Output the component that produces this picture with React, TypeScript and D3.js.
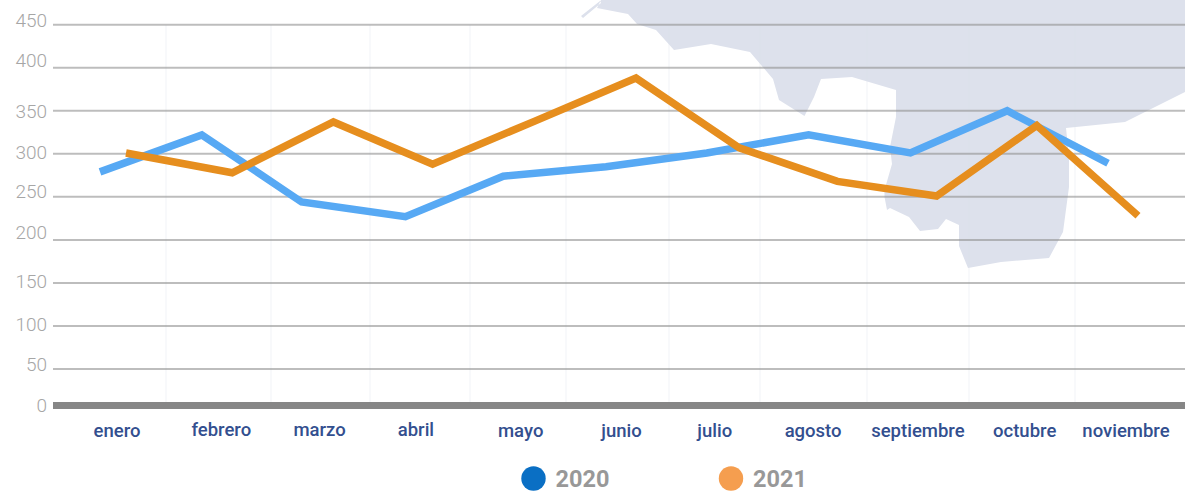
import React, { useRef, useEffect } from 'react';
import * as d3 from 'd3';

const months = ['enero', 'febrero', 'marzo', 'abril', 'mayo', 'junio', 'julio', 'agosto', 'septiembre', 'octubre', 'noviembre'];
const values2020 = [279, 322, 244, 227, 274, 285, 301, 322, 301, 350, 289];
const values2021 = [301, 278, 337, 288, 338, 388, 307, 268, 251, 333, 228];
const yTicks = [0, 50, 100, 150, 200, 250, 300, 350, 400, 450];
const legendYears = ['2020', '2021'];

// nothing in the original is evenly spaced, so each month/tick gets a small shift
const labelNudge = [-6, -2, -4, -8, -3.5, -3, -10, -12, -7.5, -1, 0];
const labelLift = [0, 1, 1, 1, 0, 0, 0, 0, 0, 0, 0];
const shift2020 = [0, 1, 0, 3, 0, 2, 2, 3, 4, 0, 0];
const shift2021 = [0, 5, 5, 3, 4, 4, 6, 3, 1, 0, 0];
const tickShift = [2, -3, 1, 1, -5, -3, 1, 3, -5, -2];
const separators = [166, 271, 370, 470, 566, 669, 760, 867, 969, 1075];

// background map silhouette
const mapShape = 'M597,8 L628,14 L637,24 L656,30 L674,50 L711,44 L750,52 L773,79 L779,100 L804.5,116 L814,97 L821,79 L852,77 L896,90 L896,117 L890,147 L892,164 L884.5,190 L884.5,197 L887,210 L890,208 L909,217 L920,231 L938,229 L946,219 L959,225 L959,246 L968,268 L1001,262 L1049,258 L1063,232 L1069,187 L1069,157 L1066,128 L1125,122 L1185,92 L1185,0 L601,0 Z M581,16 L600,1 L601,3 L583,18 Z';

function App() {
    const ref = useRef<SVGSVGElement>(null);

    useEffect(() => {
        const svg = d3.select(ref.current);
        svg.selectAll('*').remove();

        const y = d3.scaleLinear().domain([0, 50, 450]).range([405.5, 369, 24.7]);
        const xLabels = d3.scalePoint().domain(months).range([123, 1126]);
        const x2020 = d3.scalePoint().domain(months).range([100, 1108]);
        const x2021 = d3.scalePoint().domain(months).range([126, 1138]);

        svg.append('path').attr('d', mapShape).attr('fill', '#dde1ec');

        svg.append('g')
            .selectAll('line')
            .data(separators)
            .enter().append('line')
            .attr('x1', d => d).attr('x2', d => d)
            .attr('y1', y(450)).attr('y2', y(0))
            .attr('stroke', '#dde1ec')
            .attr('stroke-opacity', 0.2)
            .attr('stroke-width', 2);

        const yAxis = d3.axisLeft(y).tickValues(yTicks).tickSize(0).tickPadding(6);
        const yG = svg.append('g').attr('transform', 'translate(53,0)').call(yAxis);
        yG.select('.domain').remove();
        yG.selectAll('text')
            .attr('fill', '#a6a6a6')
            .style('font-family', 'Roboto')
            .style('font-weight', 300)
            .style('font-size', '19px')
            .attr('dy', '0')
            .attr('y', 0)
            .attr('transform', (d, i) => 'translate(0,' + (4 + tickShift[i]) + ')');

        svg.append('g')
            .selectAll('line')
            .data(yTicks.filter(d => d > 0))
            .enter().append('line')
            .attr('x1', 53).attr('x2', 1185)
            .attr('y1', d => y(d)).attr('y2', d => y(d))
            .attr('stroke', '#919191')
            .attr('stroke-opacity', 0.6)
            .attr('stroke-width', 2);

        svg.append('line')
            .attr('x1', 53).attr('x2', 1185)
            .attr('y1', y(0)).attr('y2', y(0))
            .attr('stroke', '#868686')
            .attr('stroke-width', 7);

        const line2020 = d3.line<number>().x((d, i) => x2020(months[i])! + shift2020[i]).y(d => y(d));
        const line2021 = d3.line<number>().x((d, i) => x2021(months[i])! + shift2021[i]).y(d => y(d));

        svg.append('path')
            .attr('d', line2020(values2020))
            .attr('fill', 'none')
            .attr('stroke', '#57a9f4')
            .attr('stroke-width', 7.5);
        svg.append('path')
            .attr('d', line2021(values2021))
            .attr('fill', 'none')
            .attr('stroke', '#e68e1e')
            .attr('stroke-width', 7.5);

        svg.append('g')
            .selectAll('text')
            .data(months)
            .enter().append('text')
            .attr('x', (d, i) => xLabels(d)! + labelNudge[i])
            .attr('y', (d, i) => 437 - labelLift[i])
            .attr('text-anchor', 'middle')
            .attr('fill', '#334f8f')
            .style('font-family', 'Roboto')
            .style('font-weight', 500)
            .style('font-size', '18.5px')
            .text(d => d);

        const legendX = d3.scalePoint().domain(legendYears).range([533.5, 731]);
        const legendColor = d3.scaleOrdinal<string>().domain(legendYears).range(['#0a6fc4', '#f59e4f']);
        const legend = svg.append('g')
            .selectAll('g')
            .data(legendYears)
            .enter().append('g')
            .attr('transform', d => 'translate(' + legendX(d) + ',478.5)');
        legend.append('circle')
            .attr('r', 12.2)
            .attr('fill', d => legendColor(d));
        legend.append('text')
            .attr('x', 22)
            .attr('y', 8)
            .attr('fill', '#989898')
            .style('font-family', 'Roboto')
            .style('font-weight', 700)
            .style('font-size', '23.5px')
            .text(d => d);
    }, []);

    return <svg ref={ref} width={1185} height={491} style={{ position: 'absolute', left: 0, top: 0 }} />;
}

export default App;
